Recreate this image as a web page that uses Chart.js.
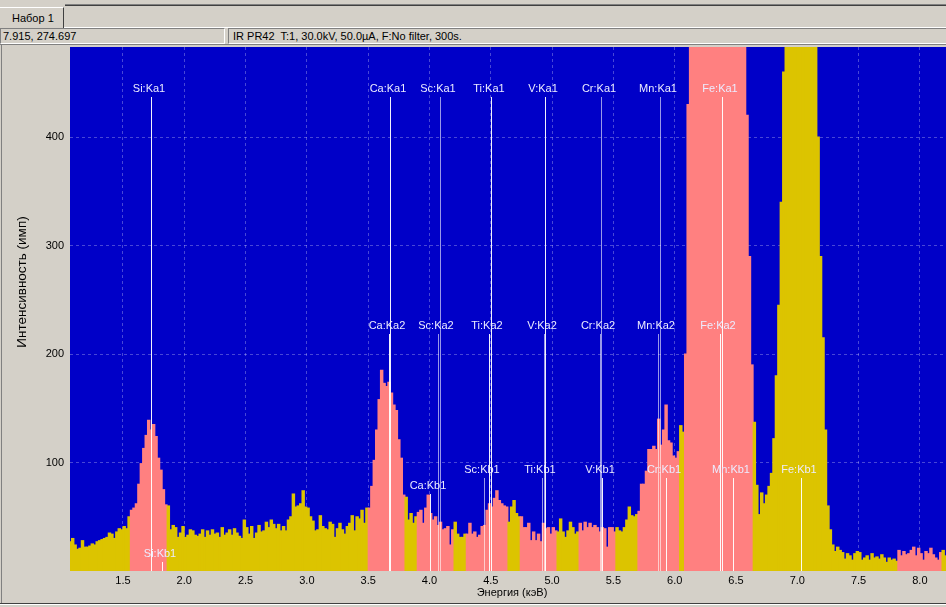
<!DOCTYPE html>
<html>
<head>
<meta charset="utf-8">
<script src="https://cdn.jsdelivr.net/npm/chart.js@4.4.1/dist/chart.umd.min.js"></script>
<style>
  html, body { margin:0; padding:0; }
  body { width:946px; height:607px; background:#D4D0C8; position:relative; overflow:hidden;
         font-family:"Liberation Sans", Arial, sans-serif; font-size:11px; color:#000; }
  .abs { position:absolute; }
  #tabLineA { left:65px; right:0; top:4px; height:1px; background:#808080; }
  #tabLineB { left:65px; right:0; top:5px; height:1px; background:#404040; }
  #tab { left:0; top:7px; width:63px; height:20px; border-top:1px solid #fff; border-right:1px solid #404040; }
  #tabText { left:12px; top:12px; }
  #tabBottom { left:64px; right:0; top:27px; height:1px; background:#fff; }
  .panel { top:28px; height:14px; border-top:1px solid #808080; border-left:1px solid #808080;
           border-bottom:1px solid #fff; border-right:1px solid #fff; line-height:14px;
           white-space:nowrap; overflow:hidden; background:#D4D0C8; }
  #p1 { left:0; width:221px; padding-left:2px; }
  #p2 { left:228px; width:713px; padding-left:4px; }
  #frameTop { left:0; right:0; top:44px; height:1px; background:#808080; }
  #frameLeft { left:1px; top:45px; width:1px; height:559px; background:#808080; }
  #frameBottom { left:0; right:0; top:603px; height:1px; background:#404040; }
  #frameBottom2 { left:0; right:0; top:604px; height:1px; background:#fff; }
  #chartBox { left:0; top:35px; width:946px; height:572px; }
</style>
</head>
<body>
<div class="abs" id="chartBox"><canvas id="c" width="946" height="572"></canvas></div>
<div class="abs" id="tabLineA"></div>
<div class="abs" id="tabLineB"></div>
<div class="abs" id="tab"></div>
<div class="abs" id="tabText">Набор 1</div>
<div class="abs" id="tabBottom"></div>
<div class="abs panel" id="p1">7.915, 274.697</div>
<div class="abs panel" id="p2">IR PR42&nbsp; T:1, 30.0kV, 50.0µA, F:No filter, 300s.</div>
<div class="abs" id="frameTop"></div>
<div class="abs" id="frameLeft"></div>
<div class="abs" id="frameBottom"></div>
<div class="abs" id="frameBottom2"></div>
<script>
// ---------------- data ----------------
const channelStart = 1.07;   // keV, centre of first channel
const channelStep = 0.02;    // keV per channel
const counts = [
  27,30,24,20,21,28,22,22,23,25,24,27,28,29,30,31,35,34,30,36,39,38,41,39,50,
  56,58,62,80,99,113,125,139,130,135,124,104,93,75,61,
  60,38,42,40,31,35,41,31,33,38,37,33,32,34,38,31,37,33,38,34,35,31,40,33,35,38,33,39,35,32,
  30,47,40,34,41,30,35,42,36,37,45,40,47,43,39,43,37,41,37,
  47,50,71,59,60,62,74,59,58,50,46,37,38,51,41,39,38,45,43,31,39,44,38,34,41,44,51,37,50,48,56,44,58,
  58,78,102,130,158,185,173,170,174,164,153,148,121,104,70,
  68,47,53,44,50,
  54,56,44,58,70,53,47,50,42,45,38,39,41,24,38,
  45,34,31,31,34,
  34,44,34,36,31,33,41,42,56,62,59,67,74,65,62,60,59,
  45,59,65,53,50,
  50,40,40,44,28,36,28,34,27,44,39,40,34,40,37,
  36,48,36,31,37,45,40,34,36,
  44,37,45,40,44,40,42,40,36,40,39,22,40,40,36,
  40,37,36,40,47,59,51,50,52,
  55,80,80,92,112,112,115,112,140,116,130,153,120,118,106,104,110,
  134,128,
  200,430,700,1000,1500,2100,2900,3800,4700,5500,6200,6800,7200,7400,7300,7000,6400,5600,4700,3800,2900,2100,1400,900,560,420,290,190,
  137,79,52,72,62,70,78,90,122,180,245,340,460,
  620,800,950,1050,1120,1150,1120,1060,980,880,760,640,520,
  400,290,215,130,60,38,24,
  18,22,19,17,11,16,14,10,16,18,17,10,12,14,10,16,12,13,11,15,12,8,12,10,11,9,
  19,14,18,15,16,19,22,14,21,16,10,18,16,21,15,12,10,17,
  19,14
];
// regions of interest (highlighted), keV
const roiStart = [1.565, 3.505, 3.905, 4.300, 4.745, 5.215, 5.695, 6.085, 7.825];
const roiEnd   = [1.865, 3.805, 4.205, 4.645, 5.045, 5.515, 6.045, 6.640, 8.175];
// element line markers
const markerNames = ['Si:Ka1','Ca:Ka1','Sc:Ka1','Ti:Ka1','V:Ka1','Cr:Ka1','Mn:Ka1','Fe:Ka1',
                     'Ca:Ka2','Sc:Ka2','Ti:Ka2','V:Ka2','Cr:Ka2','Mn:Ka2','Fe:Ka2',
                     'Si:Kb1','Ca:Kb1','Sc:Kb1','Ti:Kb1','V:Kb1','Cr:Kb1','Mn:Kb1','Fe:Kb1'];
const markerEnergies = [1.726,3.675,4.086,4.502,4.942,5.397,5.883,6.389,
                        3.672,4.072,4.488,4.934,5.390,5.866,6.370,
                        1.821,4.001,4.445,4.915,5.404,5.929,6.478,7.030];
const markerHeights = [437,437,437,437,437,437,437,437,
                       218,218,218,218,218,218,218,
                       8,71,86,86,86,86,86,86];
const xTicks = [1.5,2.0,2.5,3.0,3.5,4.0,4.5,5.0,5.5,6.0,6.5,7.0,7.5,8.0];
const yTicks = [100,200,300,400];
const xRange = [1.068, 8.213];
const yRange = [0, 483];
const xTitle = 'Энергия (кэВ)';
const yTitle = 'Интенсивность (имп)';

// ---------------- styles ----------------
const PLOT_BG = '#0000C8';
const BAR_YELLOW = '#DCC400';
const BAR_PINK = '#FF8080';
const GRID_COLOR = 'rgba(255,255,255,0.28)';
const faintMarkers = ['Sc:Ka1','Sc:Ka2','Cr:Ka1','Cr:Ka2','Mn:Ka1','Mn:Ka2','V:Ka2','Sc:Kb1','Ti:Kb1'];
const FONT = '"Liberation Sans", Arial, sans-serif';
const CANVAS_TOP = 35; // page offset of the canvas

const points = counts.map((c, i) => ({ x: channelStart + i * channelStep, y: c }));
const inRoi = e => roiStart.some((s, k) => e >= s && e <= roiEnd[k]);
const barColors = points.map(p => inRoi(p.x) ? BAR_PINK : BAR_YELLOW);

const plotBg = {
  id: 'plotBg',
  beforeDraw(chart) {
    const { ctx, chartArea: a } = chart;
    ctx.save();
    ctx.fillStyle = PLOT_BG;
    ctx.fillRect(a.left, a.top, a.right - a.left, a.bottom - a.top);
    ctx.restore();
  }
};

const markersPlugin = {
  id: 'markers',
  afterDraw(chart) {
    const { ctx, chartArea: a } = chart;
    const xs = chart.scales.x, ys = chart.scales.y;
    ctx.save();
    ctx.beginPath();
    ctx.rect(a.left, a.top, a.right - a.left, a.bottom - a.top);
    ctx.clip();
    ctx.font = '11px ' + FONT;
    ctx.textAlign = 'center';
    ctx.textBaseline = 'bottom';
    markerNames.forEach((name, i) => {
      const x = Math.round(xs.getPixelForValue(markerEnergies[i])) + 0.5;
      const yTop = Math.round(ys.getPixelForValue(markerHeights[i]));
      ctx.strokeStyle = faintMarkers.includes(name) ? 'rgba(255,255,255,0.6)' : 'rgba(255,255,255,0.95)';
      ctx.lineWidth = 1;
      ctx.beginPath();
      ctx.moveTo(x, yTop);
      ctx.lineTo(x, a.bottom);
      ctx.stroke();
      ctx.fillStyle = '#ECECFF';
      ctx.fillText(name, x - 2.5, yTop - 3);
    });
    ctx.restore();

    // axis titles
    ctx.save();
    ctx.fillStyle = '#000';
    ctx.textAlign = 'center';
    ctx.textBaseline = 'middle';
    ctx.font = '11px ' + FONT;
    ctx.fillText(xTitle, (a.left + a.right) / 2 + 4, 593 - CANVAS_TOP);
    ctx.font = '13.5px ' + FONT;
    ctx.translate(22, 282 - CANVAS_TOP);
    ctx.rotate(-Math.PI / 2);
    ctx.fillText(yTitle, 0, 0);
    ctx.restore();
  }
};

new Chart(document.getElementById('c'), {
  type: 'bar',
  data: {
    datasets: [{
      data: points,
      backgroundColor: barColors,
      borderWidth: 0,
      barPercentage: 1.0,
      categoryPercentage: 1.0,
      inflateAmount: 0.5
    }]
  },
  options: {
    responsive: false,
    devicePixelRatio: 1,
    animation: false,
    events: [],
    layout: { padding: 0 },
    plugins: { legend: { display: false }, tooltip: { enabled: false }, title: { display: false } },
    scales: {
      x: {
        type: 'linear',
        min: xRange[0], max: xRange[1],
        offset: false,
        z: 1,
        grid: { offset: false, color: GRID_COLOR, lineWidth: 1, drawTicks: false },
        border: { display: false, dash: [3, 3] },
        afterBuildTicks: s => { s.ticks = xTicks.map(v => ({ value: v })); },
        afterFit: s => { s.height = 36; },
        ticks: {
          autoSkip: false, maxRotation: 0, padding: 3, color: '#000',
          font: { family: FONT, size: 11 },
          callback: v => Number(v).toFixed(1)
        }
      },
      y: {
        type: 'linear',
        min: yRange[0], max: yRange[1],
        z: 1,
        grid: { color: GRID_COLOR, lineWidth: 1, drawTicks: false },
        border: { display: false, dash: [3, 3] },
        afterBuildTicks: s => { s.ticks = yTicks.map(v => ({ value: v })); },
        afterFit: s => { s.width = 70; },
        ticks: {
          padding: 6, color: '#000',
          font: { family: FONT, size: 11, lineHeight: '12px' },
          callback: v => String(v)
        }
      }
    }
  },
  plugins: [plotBg, markersPlugin]
});
</script>
</body>
</html>
